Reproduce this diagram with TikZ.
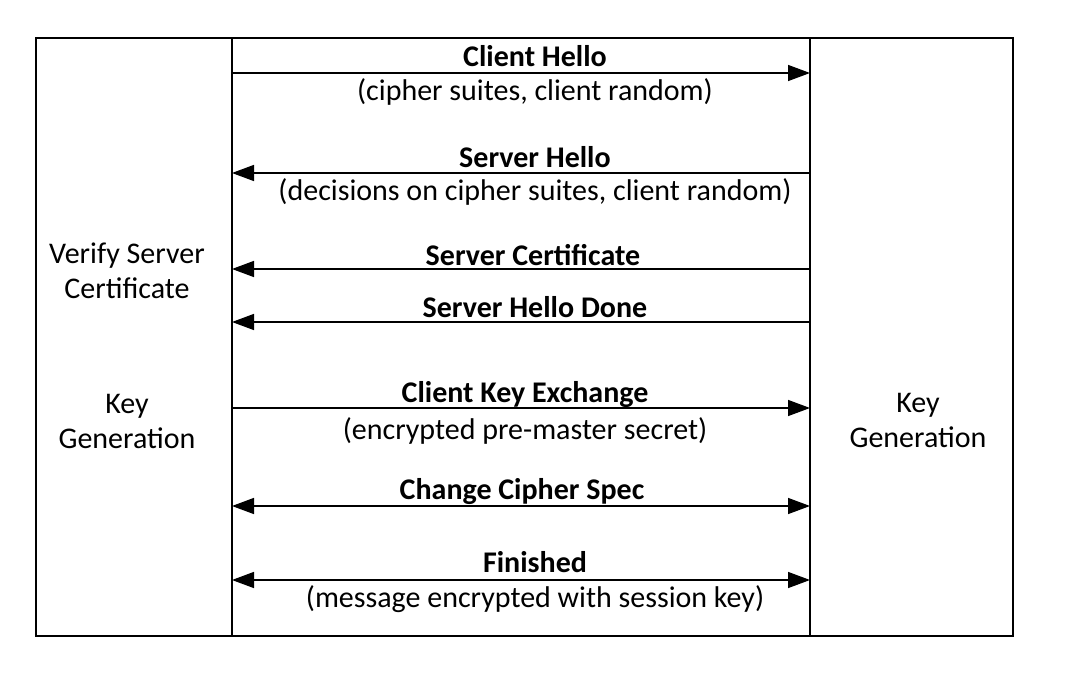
\documentclass[tikz,border=0pt]{standalone}
\usepackage{fontspec}
\setmainfont{Carlito}
\usetikzlibrary{arrows.meta}

\begin{document}
\begin{tikzpicture}[x = 1pt, y = -1pt, font = \fontsize{30}{35}\selectfont]
	\tikzstyle{boxStyle} = [line width = 1.8pt]
	\tikzstyle{msgStyle} = [line width = 1.5pt, >={Triangle[length = 22pt, width = 16pt]}]
	\tikzstyle{titleStyle} = [inner sep = 0pt, font = \fontsize{30}{35}\selectfont\bfseries]
	\tikzstyle{noteStyle} = [inner sep = 0pt]
	\tikzstyle{sideStyle} = [inner sep = 0pt, align = center]
	\useasboundingbox (0,0) rectangle (1082,682);
	% frame and lifelines
	\draw[boxStyle] (36,38) rectangle (1013,636);
	\coordinate (ctop) at (232,38);
	\coordinate (cbot) at (232,636);
	\coordinate (stop) at (810,38);
	\coordinate (sbot) at (810,636);
	\draw[boxStyle] (ctop) -- (cbot);
	\draw[boxStyle] (stop) -- (sbot);
	% message ends
	\foreach \i/\y in {1/73, 2/173, 3/269, 4/322, 5/408, 6/506, 7/580}{
		\coordinate (c\i) at (232,\y);
		\coordinate (s\i) at (810,\y);
	}
	\draw[msgStyle, ->] (c1) -- (s1);
	\draw[msgStyle, ->] (s2) -- (c2);
	\draw[msgStyle, ->] (s3) -- (c3);
	\draw[msgStyle, ->] (s4) -- (c4);
	\draw[msgStyle, ->] (c5) -- (s5);
	\draw[msgStyle, <->] (c6) -- (s6);
	\draw[msgStyle, <->] (c7) -- (s7);
	% labels
	\node[titleStyle] (hello) at (535,56) {Client Hello};
	\node[noteStyle] (helloNote) at (535,92) {(cipher suites, client random)};
	\node[titleStyle] (shello) at (535,157) {Server Hello};
	\node[noteStyle] (shelloNote) at (535,192) {(decisions on cipher suites, client random)};
	\node[titleStyle] (cert) at (533,255) {Server Certificate};
	\node[titleStyle] (done) at (535,307) {Server Hello Done};
	\node[titleStyle] (kex) at (525,395) {Client Key Exchange};
	\node[noteStyle] (kexNote) at (525,431) {(encrypted pre-master secret)};
	\node[titleStyle] (ccs) at (522,492) {Change Cipher Spec};
	\node[titleStyle] (fin) at (535,562) {Finished};
	\node[noteStyle] (finNote) at (535,599) {(message encrypted with session key)};
	\node[sideStyle] (verify) at (127,271) {Verify Server\\Certificate};
	\node[sideStyle] (ckey) at (127,421) {Key\\Generation};
	\node[sideStyle] (skey) at (918,420) {Key\\Generation};
\end{tikzpicture}
\end{document}
